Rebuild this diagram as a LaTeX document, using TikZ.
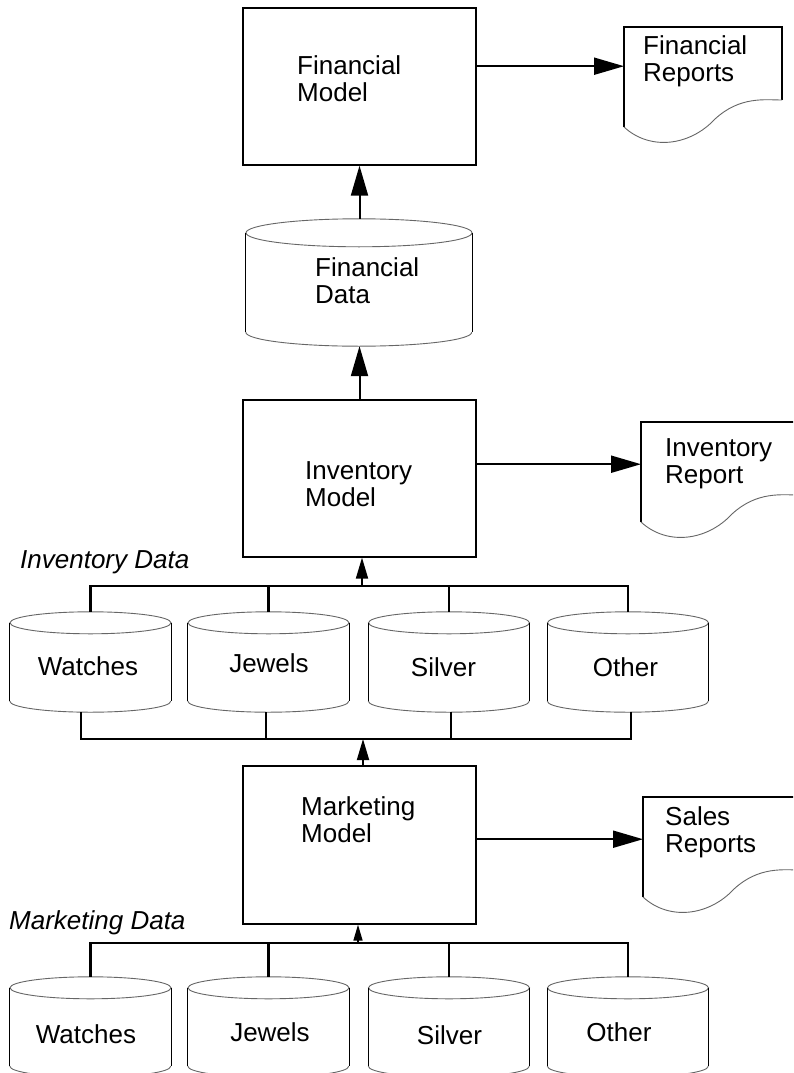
\documentclass[tikz,border=0pt]{standalone}
\usepackage{fontspec}
\setmainfont{Liberation Sans}
\usetikzlibrary{arrows.meta,calc}

\tikzset{
  txt/.style={inner sep=0pt, anchor=west, align=left, font=\fontsize{26}{27}\selectfont, text depth=0pt},
  cyltxt/.style={inner sep=0pt, anchor=center, font=\fontsize{26}{27}\selectfont, text depth=0pt},
  lbl/.style={inner sep=0pt, anchor=west, font=\fontsize{26}{27}\selectfont\itshape, text depth=0pt},
  model/.style={draw, line width=1.3pt, minimum width=233pt, minimum height=157pt, inner sep=0pt},
  cylbox/.style={inner sep=0pt, minimum width=161pt, minimum height=100pt},
  docbox/.style={inner sep=0pt, minimum width=158pt, minimum height=84pt, anchor=north west},
  cylside/.style={line width=1pt},
  cylarc/.style={line width=0.9pt, draw=black!60},
  docline/.style={line width=1.1pt},
  bus/.style={line width=2.4pt},
  bigarr/.style={line width=2pt, -{Triangle[length=30pt,width=17pt]}},
  midarr/.style={line width=1.8pt, -{Triangle[length=21pt,width=12pt]}},
  smallarr/.style={line width=1.5pt, -{Triangle[length=16pt,width=9pt]}},
}

\newcommand{\drawcyl}[3]{%
  \draw[cylarc] ($(#1.north)+(0,#3)$) ellipse [x radius=#2pt, y radius=#3pt];
  \draw[cylside] ($(#1.north west)+(0,#3)$) -- ($(#1.south west)+(0,-#3)$);
  \draw[cylside] ($(#1.north east)+(0,#3)$) -- ($(#1.south east)+(0,-#3)$);
  \draw[cylarc] ($(#1.south west)+(0,-#3)$) arc[start angle=180, end angle=360, x radius=#2pt, y radius=#3pt];
}
\newcommand{\drawdoc}[1]{%
  \draw[docline] ($(#1.north west)+(0,100)$) -- (#1.north west) -- ($(#1.north west)+(158,0)$) -- ($(#1.north west)+(158,73)$);
  \draw[cylarc] ($(#1.north west)+(0,100)$) .. controls ($(#1.north west)+(26,124)$) and ($(#1.north west)+(66,119)$) .. ($(#1.north west)+(91,92)$) .. controls ($(#1.north west)+(116,69)$) and ($(#1.north west)+(141,73)$) .. ($(#1.north west)+(158,73)$);
}

\begin{document}
\begin{tikzpicture}[x=1pt,y=-1pt]
\useasboundingbox (0,0) rectangle (793,1073);
\fill[white] (0,0) rectangle (793,1073);
\clip (0,0) rectangle (793,1073);

% models
\node[model] (fm) at (359.5,86.5) {};
\node[model] (im) at (359.5,478.5) {};
\node[model, minimum height=158pt] (mm) at (359.5,845) {};
\node[txt] (fmt) at (297,79) {Financial\\Model};
\node[txt] (imt) at (305,484) {Inventory\\Model};
\node[txt] (mmt) at (301,819.5) {Marketing\\Model};

% reports
\node[docbox, minimum height=78pt] (fr) at (624,27) {};
\node[docbox] (ir) at (641,422) {};
\node[docbox] (sr) at (643,797) {};
\drawdoc{fr}
\drawdoc{ir}
\drawdoc{sr}
\node[txt] (frt) at (643,58.5) {Financial\\Reports};
\node[txt] (irt) at (665,461) {Inventory\\Report};
\node[txt] (srt) at (665,830) {Sales\\Reports};

% financial data
\node[cylbox, minimum width=226pt, minimum height=127pt] (fd) at (359,282.5) {};
\drawcyl{fd}{113}{14}
\node[txt] (fdt) at (315,280.5) {Financial\\Data};

% inventory data
\node[lbl] (idl) at (20,560) {Inventory Data};
\node[cylbox] (iw) at (90.5,662) {};
\node[cylbox] (ij) at (268.5,662) {};
\node[cylbox] (is) at (449,662) {};
\node[cylbox] (io) at (628,662) {};
\drawcyl{iw}{80.5}{11}
\drawcyl{ij}{80.5}{11}
\drawcyl{is}{80.5}{11}
\drawcyl{io}{80.5}{11}
\node[cyltxt] (iwt) at (88,666) {Watches};
\node[cyltxt] (ijt) at (269,663) {Jewels};
\node[cyltxt] (ist) at (443.5,667) {Silver};
\node[cyltxt] (iot) at (625.5,667) {Other};

% marketing data
\node[lbl] (mdl) at (9,920) {Marketing Data};
\node[cylbox] (mw) at (90.5,1027) {};
\node[cylbox] (mj) at (268.5,1027) {};
\node[cylbox] (ms) at (449,1027) {};
\node[cylbox] (mo) at (628,1027) {};
\drawcyl{mw}{80.5}{11}
\drawcyl{mj}{80.5}{11}
\drawcyl{ms}{80.5}{11}
\drawcyl{mo}{80.5}{11}
\node[cyltxt] (mwt) at (86,1034) {Watches};
\node[cyltxt] (mjt) at (270,1032) {Jewels};
\node[cyltxt] (mst) at (449.5,1035) {Silver};
\node[cyltxt] (mot) at (619,1032) {Other};

% bus coordinates
\coordinate (ibus) at (362,586);
\coordinate (lbus) at (363,739);
\coordinate (mbus) at (358,943);

% connectors
\draw[bigarr] (fm.east |- fr.west) -- (fr.west);
\draw[bigarr] (im.east |- ir.west) -- (ir.west);
\draw[bigarr] (mm.east |- sr.west) -- (sr.west);
\draw[bigarr] (fm.south |- fd.north) -- (fm.south);
\draw[bigarr] (im.north) -- (im.north |- fd.south);

\draw[bus] (iw.north) |- (ibus) -| (io.north);
\draw[bus] (ij.north) |- (ibus);
\draw[bus] (is.north) |- (ibus);
\draw[midarr] (ibus) -- (ibus |- im.south);

\draw[bus] ([xshift=-9.5pt]iw.south) |- (lbus) -| ([xshift=3pt]io.south);
\draw[bus] ([xshift=-2.5pt]ij.south) |- (lbus);
\draw[bus] ([xshift=2pt]is.south) |- (lbus);
\draw[midarr] (lbus |- mm.north) -- (lbus);

\draw[bus] (mw.north) |- (mbus) -| (mo.north);
\draw[bus] (mj.north) |- (mbus);
\draw[bus] (ms.north) |- (mbus);
\draw[smallarr] (mbus) -- (mbus |- mm.south);
\end{tikzpicture}
\end{document}
